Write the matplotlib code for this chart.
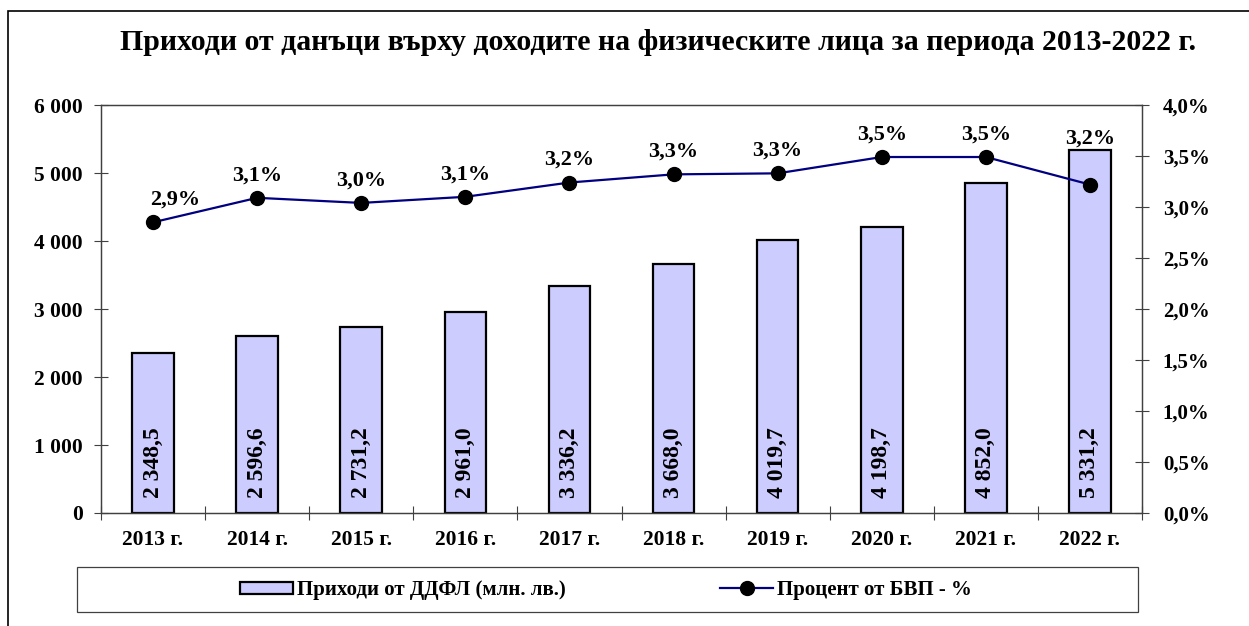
import matplotlib
matplotlib.use("Agg")
import matplotlib.pyplot as plt
from matplotlib.patches import Rectangle, Patch
from matplotlib.lines import Line2D
from matplotlib.ticker import FuncFormatter, FixedLocator

annees = ["2013 г.", "2014 г.", "2015 г.", "2016 г.", "2017 г.",
          "2018 г.", "2019 г.", "2020 г.", "2021 г.", "2022 г."]
recettes = [2348.5, 2596.6, 2731.2, 2961.0, 3336.2, 3668.0, 4019.7, 4198.7, 4852.0, 5331.2]
pourcent_pib = [2.85, 3.09, 3.04, 3.10, 3.24, 3.32, 3.33, 3.49, 3.49, 3.22]
etiquettes_pct = ["2,9%", "3,1%", "3,0%", "3,1%", "3,2%", "3,3%", "3,3%", "3,5%", "3,5%", "3,2%"]

# décalage des étiquettes (points)
decalage_x = [16, 0, 0, 0, 0, 0, 0, 0, 0, 0]
decalage_y = [9, 9, 9, 9, 9, 9, 9, 9, 9, 26]

plt.rcParams['font.family'] = ['Liberation Serif', 'DejaVu Serif']
plt.rcParams['font.weight'] = 'bold'

W, H = 1249, 626
fig = plt.figure(figsize=(W / 100, H / 100), dpi=100)
ax = fig.add_axes([101 / W, 1 - 513 / H, (1142 - 101) / W, (513 - 105) / H])
ax2 = ax.twinx()

x = list(range(len(annees)))
ax.bar(x, recettes, width=0.40, color='#CCCCFF', edgecolor='black', linewidth=1.6, zorder=2)

def fmt_milliers(v):
    s = f"{v:,.1f}".replace(",", " ").replace(".", ",")
    return s

for xi, v in zip(x, recettes):
    ax.annotate(fmt_milliers(v), (xi, 0), xytext=(0, 11), textcoords='offset points',
                rotation=90, ha='center', va='bottom', fontsize=17, fontweight='bold')

ax2.plot(x, pourcent_pib, color='#000080', linewidth=1.6, marker='o',
         markersize=10, markerfacecolor='black', markeredgecolor='black', zorder=3)
for xi, v, lab, dx, dy in zip(x, pourcent_pib, etiquettes_pct, decalage_x, decalage_y):
    ax2.annotate(lab, (xi, v), xytext=(dx, dy), textcoords='offset points',
                 ha='center', va='bottom', fontsize=16, fontweight='bold')

ax.set_xlim(-0.5, len(annees) - 0.5)
ax.set_ylim(0, 6000)
ax2.set_ylim(0, 4.0)
ax.set_yticks(range(0, 6001, 1000))
ax2.set_yticks([i * 0.5 for i in range(9)])
ax.yaxis.set_major_formatter(FuncFormatter(lambda v, p: f"{int(v):,}".replace(",", " ")))
ax2.yaxis.set_major_formatter(FuncFormatter(lambda v, p: f"{v:.1f}%".replace(".", ",")))

# x : graduations aux limites, étiquettes au centre
ax.xaxis.set_major_locator(FixedLocator([i + 0.5 for i in range(-1, len(annees))]))
ax.set_xticklabels([])
ax.xaxis.set_minor_locator(FixedLocator(x))
ax.set_xticklabels(annees, minor=True)
ax.tick_params(axis='x', which='major', direction='inout', length=10, width=0.8, color='#404040')
ax.tick_params(axis='x', which='minor', length=0, pad=12, labelsize=15.5)
ax.tick_params(axis='y', direction='inout', length=10, width=0.8, color='#404040', pad=8, labelsize=15.5)
ax2.tick_params(axis='y', direction='inout', length=10, width=0.8, color='#404040', pad=10, labelsize=15)
for a in (ax, ax2):
    for sp in a.spines.values():
        sp.set_color('#404040')
        sp.set_linewidth(0.9)
for lab in ax.get_xticklabels(minor=True) + ax.get_yticklabels() + ax2.get_yticklabels():
    lab.set_fontweight('bold')

fig.text(658 / W, 1 - 42 / H, "Приходи от данъци върху доходите на физическите лица за периода 2013-2022 г.",
         ha='center', va='center', fontsize=21.5, fontweight='bold')

# cadre de la légende
fig.add_artist(Rectangle((77 / W, 1 - 612 / H), (1138 - 77) / W, 45 / H,
                         transform=fig.transFigure, fill=False, edgecolor='#404040', linewidth=0.9))
poignees = [Patch(facecolor='#CCCCFF', edgecolor='black', linewidth=1.6),
            Line2D([], [], color='#000080', linewidth=1.6, marker='o', markersize=10,
                   markerfacecolor='black', markeredgecolor='black')]
fig.legend(poignees, ["Приходи от ДДФЛ (млн. лв.)", "Процент от БВП - %"], ncol=2,
           loc='center', bbox_to_anchor=(606 / W, 1 - 590 / H), frameon=False,
           prop={'size': 15, 'weight': 'bold'}, handlelength=2.55, handleheight=0.5,
           handletextpad=0.2, columnspacing=7.4, borderpad=0.2)

# cadre extérieur du graphique
fig.add_artist(Rectangle((8 / W, -0.1), 2, 1.1 - 11 / H, transform=fig.transFigure,
                         fill=False, edgecolor='black', linewidth=1.2))

fig.savefig("out.png", dpi=100)
